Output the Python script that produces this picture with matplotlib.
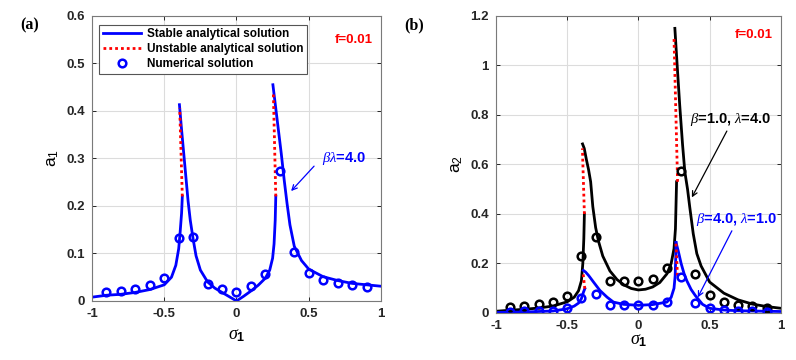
import numpy as np
import matplotlib
matplotlib.use("Agg")
import matplotlib.pyplot as plt

plt.rcParams['font.family'] = ['Liberation Sans', 'DejaVu Sans']
plt.rcParams['mathtext.fontset'] = 'custom'
plt.rcParams['mathtext.rm'] = 'Liberation Sans'
plt.rcParams['mathtext.it'] = 'Liberation Serif:italic'
plt.rcParams['mathtext.bf'] = 'Liberation Sans:bold'

# ---------------- (a) a1, beta*lambda = 4.0 ----------------
a_low1_x = [-1.0, -0.9, -0.8, -0.7, -0.6, -0.5, -0.45, -0.42, -0.40, -0.39, -0.38, -0.375]
a_low1_y = [0.008, 0.012, 0.014, 0.018, 0.024, 0.034, 0.05, 0.075, 0.11, 0.145, 0.185, 0.22]
a_uns1_x = [-0.375, -0.393]
a_uns1_y = [0.22, 0.405]
a_mid_x = [-0.395, -0.38, -0.365, -0.35, -0.335, -0.32, -0.30, -0.28, -0.25, -0.2, -0.15,
           -0.1, -0.05, 0.0, 0.05, 0.1, 0.15, 0.2, 0.23, 0.25, 0.26, 0.268, 0.272]
a_mid_y = [0.413, 0.36, 0.31, 0.26, 0.21, 0.17, 0.13, 0.095, 0.065, 0.04, 0.027,
           0.018, 0.009, 0.0, 0.01, 0.021, 0.033, 0.048, 0.065, 0.09, 0.12, 0.17, 0.22]
a_uns2_x = [0.272, 0.255]
a_uns2_y = [0.22, 0.44]
a_up2_x = [0.252, 0.27, 0.29, 0.31, 0.33, 0.35, 0.37, 0.4, 0.45, 0.5, 0.6, 0.7, 0.8, 0.9, 1.0]
a_up2_y = [0.455, 0.41, 0.36, 0.31, 0.255, 0.205, 0.16, 0.115, 0.085, 0.067, 0.051, 0.043,
           0.037, 0.034, 0.031]
a_num_x = [-0.9, -0.8, -0.7, -0.6, -0.5, -0.4, -0.3, -0.2, -0.1, 0.0,
           0.1, 0.2, 0.3, 0.4, 0.5, 0.6, 0.7, 0.8, 0.9]
a_num_y = [0.019, 0.021, 0.026, 0.033, 0.049, 0.133, 0.134, 0.036, 0.026, 0.019,
           0.031, 0.056, 0.273, 0.102, 0.059, 0.044, 0.037, 0.033, 0.029]

# ---------------- (b) a2 ----------------
# beta=1.0, lambda=4.0 (black)
k_low1_x = [-1.0, -0.9, -0.8, -0.7, -0.6, -0.5, -0.45, -0.42, -0.40, -0.39, -0.383, -0.379]
k_low1_y = [0.007, 0.011, 0.015, 0.02, 0.028, 0.045, 0.064, 0.09, 0.13, 0.2, 0.3, 0.40]
k_uns1_x = [-0.379, -0.393]
k_uns1_y = [0.40, 0.665]
k_mid_x = [-0.392, -0.38, -0.365, -0.35, -0.335, -0.32, -0.3, -0.28, -0.25, -0.2, -0.15,
           -0.1, -0.05, 0.0, 0.05, 0.1, 0.15, 0.2, 0.23, 0.25, 0.26, 0.268]
k_mid_y = [0.683, 0.665, 0.62, 0.58, 0.53, 0.43, 0.345, 0.29, 0.23, 0.17, 0.135,
           0.113, 0.099, 0.093, 0.096, 0.105, 0.123, 0.158, 0.2, 0.26, 0.34, 0.53]
k_uns2_x = [0.275, 0.25]
k_uns2_y = [0.53, 1.11]
k_up2_x = [0.256, 0.27, 0.29, 0.31, 0.326, 0.345, 0.36, 0.385, 0.41, 0.44, 0.5, 0.6, 0.7,
           0.8, 0.9, 1.0]
k_up2_y = [1.15, 1.02, 0.84, 0.68, 0.57, 0.5, 0.43, 0.32, 0.24, 0.19, 0.125, 0.08, 0.053,
           0.036, 0.026, 0.019]
k_num_x = a_num_x
k_num_y = [0.024, 0.028, 0.035, 0.044, 0.07, 0.231, 0.306, 0.128, 0.128, 0.13,
           0.138, 0.18, 0.575, 0.158, 0.074, 0.044, 0.032, 0.027, 0.021]

# beta=4.0, lambda=1.0 (blue)
b_low1_x = [-1.0, -0.9, -0.8, -0.7, -0.6, -0.5, -0.45, -0.42, -0.40, -0.385, -0.376]
b_low1_y = [0.002, 0.003, 0.004, 0.006, 0.008, 0.017, 0.028, 0.04, 0.058, 0.085, 0.098]
b_uns1_x = [-0.376, -0.389]
b_uns1_y = [0.098, 0.165]
b_mid_x = [-0.386, -0.37, -0.35, -0.315, -0.27, -0.22, -0.175, -0.105, 0.0, 0.1, 0.2,
           0.23, 0.25, 0.258, 0.262, 0.264]
b_mid_y = [0.172, 0.165, 0.152, 0.125, 0.091, 0.064, 0.044, 0.035, 0.031, 0.034, 0.044,
           0.063, 0.1, 0.15, 0.22, 0.285]
b_uns2_x = [0.264, 0.275]
b_uns2_y = [0.28, 0.14]
b_up2_x = [0.264, 0.28, 0.3, 0.32, 0.34, 0.37, 0.4, 0.45, 0.5, 0.6, 0.7, 0.8, 0.9, 1.0]
b_up2_y = [0.285, 0.25, 0.2, 0.16, 0.13, 0.095, 0.07, 0.035, 0.019, 0.012, 0.009, 0.008,
           0.007, 0.006]
b_num_x = a_num_x
b_num_y = [0.005, 0.006, 0.007, 0.009, 0.02, 0.06, 0.078, 0.032, 0.031, 0.034,
           0.034, 0.044, 0.144, 0.04, 0.02, 0.013, 0.008, 0.006, 0.005]

xticks = [-1, -0.5, 0, 0.5, 1]
xtick_labels = ['-1', '-0.5', '0', '0.5', '1']

BLUE = (0, 0, 1)
RED = (1, 0, 0)
DOT = (0, (1, 1.1))
LW = 2.0
MS = 5.5
MEW = 1.8


def style_axes(ax, xpad):
    ax.set_xlim(-1, 1)
    ax.set_xticks(xticks)
    ax.set_xticklabels(xtick_labels)
    ax.grid(True, color='#dcdcdc', linewidth=0.8)
    ax.set_axisbelow(True)
    ax.tick_params(direction='in', top=True, right=True, length=3, width=0.7,
                   labelsize=9.5, colors='#262626', pad=5)
    for lab in ax.get_xticklabels() + ax.get_yticklabels():
        lab.set_fontweight('bold')
    for sp in ax.spines.values():
        sp.set_color('#7a7a7a')
        sp.set_linewidth(0.8)
    ax.set_xlabel(r'$\mathit{\sigma}_\mathbf{1}$', fontsize=13, labelpad=xpad)


fig = plt.figure(figsize=(7.96, 3.6), dpi=100)

# ---------- panel (a) ----------
ax1 = fig.add_axes([0.1156, 0.164, 0.363, 0.792])
ax1.plot(a_low1_x, a_low1_y, color=BLUE, lw=LW, label='Stable analytical solution')
ax1.plot(a_mid_x, a_mid_y, color=BLUE, lw=LW)
ax1.plot(a_up2_x, a_up2_y, color=BLUE, lw=LW)
ax1.plot(a_uns1_x, a_uns1_y, color=RED, lw=LW, ls=DOT, label='Unstable analytical solution')
ax1.plot(a_uns2_x, a_uns2_y, color=RED, lw=LW, ls=DOT)
ax1.plot(a_num_x, a_num_y, ls='none', marker='o', ms=MS, mfc='none', mec=BLUE, mew=MEW,
         label='Numerical solution')
ax1.set_ylim(0, 0.6)
ax1.set_yticks([0, 0.1, 0.2, 0.3, 0.4, 0.5, 0.6])
ax1.set_yticklabels(['0', '0.1', '0.2', '0.3', '0.4', '0.5', '0.6'])
style_axes(ax1, 5)
ax1.set_ylabel(r'$\mathrm{a_1}$', fontsize=12.5, labelpad=4)
leg = ax1.legend(loc='upper left', bbox_to_anchor=(0.005, 0.99), fontsize=8.5,
                 handlelength=3.2, handletextpad=0.5, borderpad=0.3, labelspacing=0.25,
                 fancybox=False, framealpha=1, edgecolor='#555555', numpoints=1)
leg.get_frame().set_linewidth(0.8)
for t in leg.get_texts():
    t.set_fontweight('bold')
ax1.text(0.945, 0.549, 'f=0.01', color=RED, fontweight='bold', fontsize=9.5,
         ha='right', va='center')
ax1.text(0.59, 0.30, r'$\mathit{\beta\lambda}$=4.0', color=BLUE, fontweight='bold',
         fontsize=10.5, ha='left', va='center')
ax1.annotate('', xy=(0.365, 0.227), xytext=(0.55, 0.288),
             arrowprops=dict(arrowstyle='->', color=BLUE, lw=0.9, mutation_scale=9))
fig.text(0.025, 0.93, '(a)', fontfamily='Liberation Serif', fontweight='bold', fontsize=11.5,
         va='center')

# ---------- panel (b) ----------
ax2 = fig.add_axes([0.623, 0.1306, 0.358, 0.825])
for xs, ys in [(k_low1_x, k_low1_y), (k_mid_x, k_mid_y), (k_up2_x, k_up2_y)]:
    ax2.plot(xs, ys, color='black', lw=LW)
for xs, ys in [(b_low1_x, b_low1_y), (b_mid_x, b_mid_y), (b_up2_x, b_up2_y)]:
    ax2.plot(xs, ys, color=BLUE, lw=LW)
for xs, ys in [(k_uns1_x, k_uns1_y), (k_uns2_x, k_uns2_y),
               (b_uns1_x, b_uns1_y), (b_uns2_x, b_uns2_y)]:
    ax2.plot(xs, ys, color=RED, lw=LW, ls=DOT)
ax2.plot(k_num_x, k_num_y, ls='none', marker='o', ms=MS, mfc='none', mec='black', mew=MEW)
ax2.plot(b_num_x, b_num_y, ls='none', marker='o', ms=MS, mfc='none', mec=BLUE, mew=MEW)
ax2.set_ylim(0, 1.2)
ax2.set_yticks([0, 0.2, 0.4, 0.6, 0.8, 1.0, 1.2])
ax2.set_yticklabels(['0', '0.2', '0.4', '0.6', '0.8', '1', '1.2'])
style_axes(ax2, 0)
ax2.set_ylabel(r'$\mathrm{a_2}$', fontsize=12.5, labelpad=4)
ax2.text(0.945, 1.123, 'f=0.01', color=RED, fontweight='bold', fontsize=9.5,
         ha='right', va='center')
ax2.text(0.36, 0.78, r'$\mathit{\beta}$=1.0, $\mathit{\lambda}$=4.0', color='black',
         fontweight='bold', fontsize=10.5, ha='left', va='center')
ax2.annotate('', xy=(0.366, 0.457), xytext=(0.63, 0.745),
             arrowprops=dict(arrowstyle='->', color='black', lw=0.9, mutation_scale=9))
ax2.text(0.405, 0.376, r'$\mathit{\beta}$=4.0, $\mathit{\lambda}$=1.0', color=BLUE,
         fontweight='bold', fontsize=10.5, ha='left', va='center')
ax2.annotate('', xy=(0.408, 0.053), xytext=(0.665, 0.342),
             arrowprops=dict(arrowstyle='->', color=BLUE, lw=0.9, mutation_scale=9))
fig.text(0.508, 0.93, '(b)', fontfamily='Liberation Serif', fontweight='bold', fontsize=11.5,
         va='center')

fig.savefig('out.png', dpi=100)
